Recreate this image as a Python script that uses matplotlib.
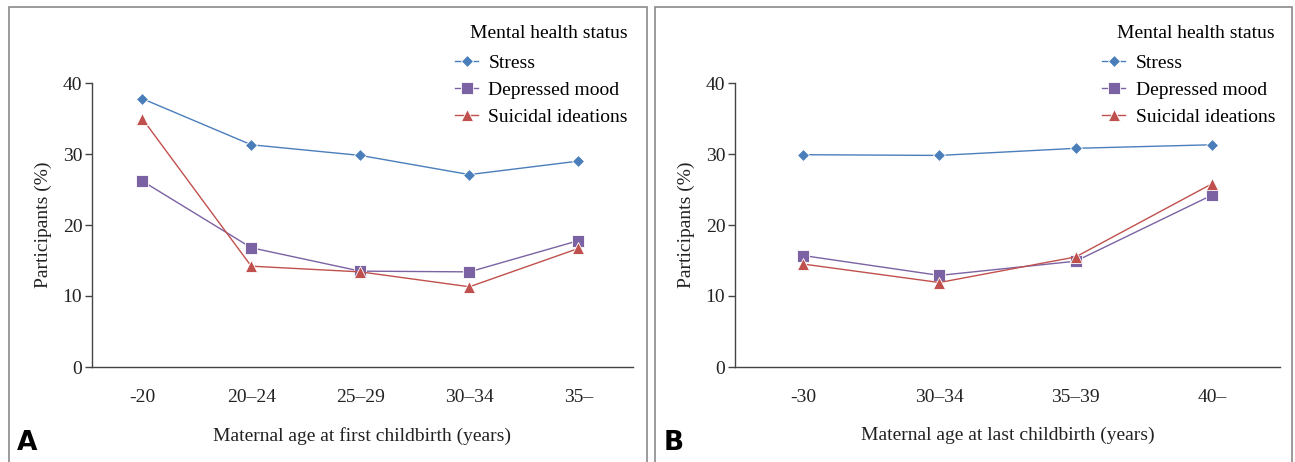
import numpy as np
import matplotlib
matplotlib.use("Agg")
import matplotlib.pyplot as plt
from matplotlib.patches import Rectangle

# panel A: maternal age at first childbirth
cats_a = ["-20", "20\u201324", "25\u201329", "30\u201334", "35\u2013"]
stress_a = [37.8, 31.3, 29.8, 27.1, 29.0]
depressed_a = [26.2, 16.8, 13.5, 13.4, 17.8]
suicidal_a = [35.0, 14.2, 13.4, 11.3, 16.7]

# panel B: maternal age at last childbirth
cats_b = ["-30", "30\u201334", "35\u201339", "40\u2013"]
stress_b = [29.9, 29.8, 30.8, 31.3]
depressed_b = [15.7, 12.9, 14.9, 24.2]
suicidal_b = [14.5, 11.9, 15.5, 25.8]

series_names = ["Stress", "Depressed mood", "Suicidal ideations"]
colors = ["#4a7ebb", "#7b62a3", "#c0504d"]
markers = ["D", "s", "^"]
msizes = [6.5, 8.5, 8]

plt.rcParams['font.family'] = ['Liberation Serif', 'DejaVu Serif']
W, H = 1295, 462
fig = plt.figure(figsize=(W / 100, H / 100), dpi=100)

# panel frames
edge = "#8a8a8a"
fig.patches.append(Rectangle((9 / W, -0.01), (647 - 9) / W, (H - 7) / H + 0.01,
                             transform=fig.transFigure, fill=False, ec=edge, lw=1.2))
fig.patches.append(Rectangle((655 / W, -0.01), (1292 - 655) / W, (H - 7) / H + 0.01,
                             transform=fig.transFigure, fill=False, ec=edge, lw=1.2))


def panel(rect, cats, data, xlabel, letter, letter_x, legend_x, xl):
    ax = fig.add_axes(rect)
    x = np.arange(len(cats))
    for vals, name, c, m, ms in zip(data, series_names, colors, markers, msizes):
        ax.plot(x, vals, color=c, lw=1.0, marker=m, ms=ms, mfc=c, mec="white",
                mew=0.6, label=name)
    ax.set_ylim(0, 40)
    ax.set_xlim(*xl)
    ax.set_yticks([0, 10, 20, 30, 40])
    ax.set_xticks(x)
    ax.set_xticklabels(cats)
    ax.tick_params(axis="x", length=0, pad=16, labelsize=14, colors="#222222")
    ax.tick_params(axis="y", length=5, width=1, color="#444444", labelsize=14,
                   colors="#222222", pad=2)
    for s in ["top", "right"]:
        ax.spines[s].set_visible(False)
    for s in ["left", "bottom"]:
        ax.spines[s].set_color("#444444")
        ax.spines[s].set_linewidth(1.0)
    ax.set_ylabel("Participants (%)", fontsize=14, color="#222222", labelpad=8)
    ax.set_xlabel(xlabel, fontsize=14, color="#222222", labelpad=15)
    leg = ax.legend(loc="upper right", bbox_to_anchor=(legend_x, 1 - 25 / H),
                    bbox_transform=fig.transFigure, frameon=False,
                    title="Mental health status", title_fontsize=14, fontsize=14,
                    handlelength=1.15, handletextpad=0.55, labelspacing=0.47,
                    borderaxespad=0, borderpad=0)
    leg._legend_box.align = "right"
    leg._legend_box.sep = 9
    fig.text(letter_x / W, 6 / H, letter, fontsize=19, fontweight="bold",
             family="DejaVu Sans", ha="left", va="bottom")
    return ax


bottom = 1 - 367 / H
height = (367 - 83) / H
panel([92 / W, bottom, (633 - 92) / W, height], cats_a,
      [stress_a, depressed_a, suicidal_a],
      "Maternal age at first childbirth (years)", "A", 17, 628 / W, (-0.46, 4.5))
panel([735 / W, bottom, (1280 - 735) / W, height], cats_b,
      [stress_b, depressed_b, suicidal_b],
      "Maternal age at last childbirth (years)", "B", 664, 1275 / W, (-0.5, 3.5))

fig.savefig("out.png", dpi=100)
